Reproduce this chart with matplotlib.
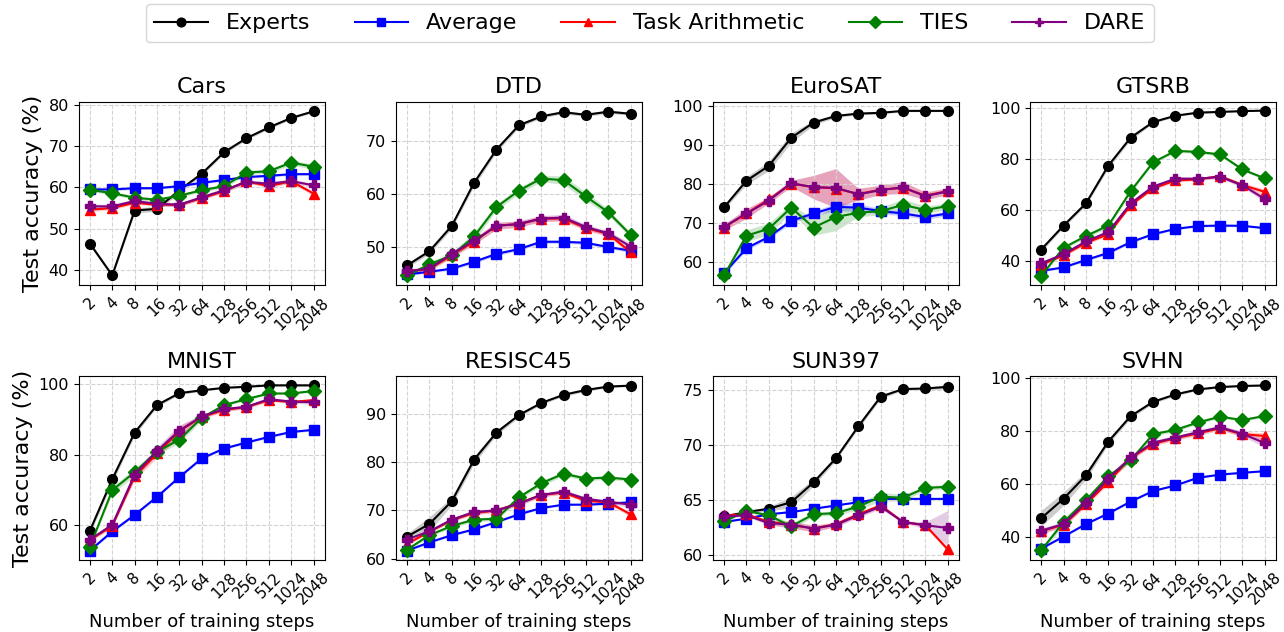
import numpy as np
import matplotlib
matplotlib.use('Agg')
import matplotlib.pyplot as plt

# Training steps (x axis) and datasets (one panel each)
steps = [2, 4, 8, 16, 32, 64, 128, 256, 512, 1024, 2048]
datasets = ['Cars', 'DTD', 'EuroSAT', 'GTSRB', 'MNIST', 'RESISC45', 'SUN397', 'SVHN']

# Mean test accuracy, one row per dataset (same order as `datasets`)
experts_mean = [
    [46.4, 38.7, 54.4, 54.8, 59.3, 63.3, 68.5, 71.9, 74.5, 76.8, 78.4],
    [46.4, 49.1, 53.9, 62.1, 68.4, 73.0, 74.7, 75.5, 75.0, 75.6, 75.2],
    [74.1, 80.9, 84.7, 91.9, 95.8, 97.5, 98.1, 98.3, 98.8, 98.8, 98.8],
    [44.5, 53.9, 62.6, 77.4, 88.4, 94.5, 97.0, 98.2, 98.5, 98.8, 99.0],
    [58.5, 73.1, 86.3, 94.1, 97.5, 98.3, 99.0, 99.3, 99.7, 99.7, 99.7],
    [64.6, 67.2, 71.9, 80.5, 86.1, 89.7, 92.2, 93.9, 94.9, 95.6, 95.8],
    [63.5, 63.9, 64.2, 64.8, 66.6, 68.8, 71.7, 74.4, 75.1, 75.15, 75.3],
    [46.9, 54.3, 63.1, 75.9, 85.5, 90.9, 93.7, 95.6, 96.5, 96.9, 97.1],
]
average_mean = [
    [59.5, 59.5, 59.8, 59.8, 60.3, 61.1, 61.8, 62.5, 62.8, 63.2, 63.2],
    [44.7, 45.2, 45.8, 47.1, 48.6, 49.5, 50.9, 50.9, 50.7, 49.9, 49.2],
    [57.2, 63.6, 66.5, 70.6, 72.5, 74.2, 74.0, 73.1, 72.5, 71.6, 72.5],
    [36.1, 37.5, 40.4, 43.2, 47.4, 50.5, 52.6, 53.7, 53.9, 53.8, 52.9],
    [52.9, 58.3, 63.0, 68.1, 73.7, 79.0, 81.8, 83.5, 85.1, 86.5, 87.1],
    [61.7, 63.4, 64.9, 66.1, 67.6, 69.2, 70.5, 71.2, 71.2, 71.4, 71.7],
    [63.0, 63.3, 63.7, 63.9, 64.2, 64.5, 64.8, 65.1, 65.1, 65.1, 65.1],
    [35.4, 40.0, 44.7, 48.7, 53.2, 57.2, 59.3, 62.2, 63.4, 64.1, 64.7],
]
ta_mean = [
    [54.6, 55.0, 56.3, 55.8, 55.8, 57.4, 59.1, 61.5, 60.3, 61.5, 58.5],
    [45.3, 45.7, 48.4, 50.9, 54.0, 54.2, 55.3, 55.3, 53.5, 52.4, 48.9],
    [68.9, 72.5, 76.1, 80.1, 79.3, 78.9, 77.5, 78.6, 79.1, 77.1, 78.2],
    [38.5, 42.3, 47.1, 50.5, 61.9, 68.5, 71.6, 72.0, 73.3, 69.8, 67.1],
    [55.9, 59.9, 73.9, 80.4, 86.7, 90.8, 92.7, 93.6, 95.5, 95.0, 95.5],
    [63.1, 65.6, 68.0, 69.5, 70.0, 71.5, 73.2, 73.7, 72.0, 71.7, 69.2],
    [63.6, 63.7, 63.0, 62.75, 62.4, 62.8, 63.7, 64.5, 63.0, 62.7, 60.5],
    [42.0, 44.5, 52.2, 60.7, 69.7, 75.0, 77.2, 79.0, 80.9, 78.7, 78.0],
]
ties_mean = [
    [59.4, 58.6, 57.5, 57.0, 58.0, 59.3, 60.3, 63.6, 63.9, 66.0, 65.0],
    [44.5, 46.6, 48.3, 51.9, 57.5, 60.6, 62.9, 62.6, 59.5, 56.5, 52.2],
    [56.6, 66.8, 68.6, 74.0, 68.9, 71.6, 72.7, 73.1, 74.7, 73.4, 74.4],
    [34.2, 45.2, 49.8, 53.9, 67.4, 78.7, 83.2, 82.8, 81.8, 75.9, 72.4],
    [54.0, 70.0, 75.1, 80.9, 84.3, 90.5, 94.1, 95.8, 97.4, 97.4, 98.1],
    [61.9, 64.9, 66.8, 68.1, 68.3, 72.7, 75.6, 77.6, 76.6, 76.8, 76.4],
    [63.05, 64.0, 63.6, 62.6, 63.7, 63.8, 64.4, 65.3, 65.2, 66.1, 66.2],
    [34.8, 45.4, 53.7, 62.8, 68.8, 78.7, 80.3, 83.1, 85.3, 84.0, 85.6],
]
dare_mean = [
    [55.4, 55.4, 56.7, 56.0, 55.8, 57.6, 59.3, 61.3, 60.9, 61.5, 60.5],
    [45.3, 45.8, 48.6, 51.1, 53.9, 54.3, 55.3, 55.5, 53.7, 52.5, 50.0],
    [69.1, 72.5, 75.8, 80.3, 79.2, 79.1, 77.4, 78.5, 79.2, 76.9, 78.2],
    [39.1, 42.7, 47.7, 51.4, 62.6, 69.2, 72.3, 72.3, 73.0, 69.7, 64.3],
    [56.0, 60.2, 74.4, 81.1, 86.9, 90.9, 93.0, 93.6, 95.8, 95.1, 94.9],
    [64.0, 65.7, 68.1, 69.7, 70.0, 71.4, 73.2, 73.9, 72.4, 71.8, 71.2],
    [63.5, 63.6, 62.9, 62.75, 62.4, 62.75, 63.6, 64.4, 63.0, 62.7, 62.45],
    [42.2, 44.7, 52.8, 61.9, 69.9, 75.5, 77.4, 79.4, 81.3, 78.8, 75.3],
]

# Standard deviation (shaded band), same layout
experts_std = [
    [0.5, 0.4, 0.6, 0.6, 0.6, 0.5, 0.4, 0.4, 0.4, 0.3, 0.3],
    [0.4, 0.5, 0.5, 0.6, 0.5, 0.4, 0.3, 0.3, 0.3, 0.3, 0.3],
    [0.5, 1.0, 1.2, 1.2, 0.6, 0.4, 0.3, 0.3, 0.2, 0.2, 0.2],
    [0.8, 0.8, 0.8, 1.0, 0.8, 0.5, 0.4, 0.3, 0.3, 0.2, 0.2],
    [0.8, 1.0, 0.8, 0.5, 0.4, 0.3, 0.2, 0.2, 0.2, 0.2, 0.2],
    [0.6, 1.5, 0.8, 0.8, 0.5, 0.4, 0.3, 0.3, 0.3, 0.2, 0.2],
    [0.1, 0.1, 0.2, 0.5, 0.3, 0.2, 0.2, 0.2, 0.1, 0.1, 0.2],
    [3.0, 2.5, 1.5, 1.0, 0.8, 0.6, 0.5, 0.4, 0.3, 0.3, 0.3],
]
average_std = [
    [0.3, 0.3, 0.3, 0.3, 0.3, 0.3, 0.3, 0.3, 0.3, 0.3, 0.3],
    [0.2, 0.2, 0.3, 0.3, 0.3, 0.3, 0.3, 0.3, 0.3, 0.3, 0.3],
    [0.4, 0.5, 0.5, 0.6, 0.6, 1.0, 1.0, 0.7, 0.6, 0.6, 0.6],
    [0.4, 0.4, 0.5, 0.5, 0.5, 0.4, 0.4, 0.4, 0.4, 0.4, 0.4],
    [0.3, 0.3, 0.3, 0.3, 0.3, 0.3, 0.3, 0.3, 0.3, 0.3, 0.3],
    [0.2, 0.2, 0.2, 0.2, 0.2, 0.2, 0.2, 0.2, 0.2, 0.2, 0.2],
    [0.05, 0.05, 0.05, 0.05, 0.05, 0.05, 0.05, 0.05, 0.05, 0.05, 0.05],
    [0.3, 0.3, 0.3, 0.3, 0.3, 0.3, 0.3, 0.3, 0.3, 0.3, 0.3],
]
ta_std = [
    [0.5, 0.4, 0.4, 0.4, 0.4, 0.4, 0.4, 0.4, 0.4, 0.5, 0.5],
    [0.4, 0.4, 0.5, 0.6, 0.6, 0.6, 0.5, 0.5, 0.5, 0.5, 0.5],
    [0.8, 1.2, 0.8, 0.8, 3.0, 5.0, 1.5, 1.2, 1.5, 1.0, 0.8],
    [0.6, 0.6, 0.6, 0.6, 0.6, 0.6, 0.6, 0.6, 0.6, 0.8, 1.2],
    [0.4, 0.6, 1.0, 1.2, 1.5, 0.6, 0.5, 0.5, 0.4, 0.4, 0.6],
    [0.3, 0.3, 0.3, 0.4, 0.4, 0.4, 0.4, 0.4, 0.4, 0.4, 0.5],
    [0.1, 0.1, 0.2, 0.3, 0.3, 0.2, 0.2, 0.2, 0.1, 0.1, 0.2],
    [1.0, 1.0, 0.8, 0.8, 0.8, 0.8, 0.8, 0.8, 0.8, 1.0, 1.2],
]
ties_std = [
    [0.4, 0.4, 0.4, 0.4, 0.4, 0.4, 0.5, 0.5, 0.5, 0.6, 0.6],
    [0.3, 0.5, 0.6, 0.8, 0.6, 0.6, 0.6, 0.8, 0.8, 0.6, 0.5],
    [0.4, 1.5, 1.5, 1.0, 2.0, 3.5, 1.0, 1.0, 1.5, 1.0, 0.8],
    [0.5, 0.6, 0.8, 0.8, 0.8, 0.6, 0.6, 0.6, 0.6, 0.6, 0.6],
    [0.4, 1.0, 1.0, 0.8, 1.0, 0.6, 0.4, 0.3, 0.3, 0.3, 0.3],
    [0.3, 0.3, 0.4, 0.4, 0.4, 0.4, 0.5, 0.5, 0.4, 0.4, 0.4],
    [0.1, 0.1, 0.2, 0.3, 0.2, 0.2, 0.3, 0.4, 0.3, 0.2, 0.2],
    [0.5, 1.5, 1.0, 1.0, 1.0, 0.8, 0.6, 0.6, 0.5, 0.5, 0.5],
]
dare_std = [
    [0.6, 0.5, 0.5, 0.5, 0.5, 0.5, 0.5, 0.5, 0.5, 0.5, 0.5],
    [0.4, 0.4, 0.5, 0.6, 0.7, 0.6, 0.6, 0.6, 0.5, 0.5, 0.6],
    [0.8, 1.2, 0.8, 0.8, 3.0, 5.0, 1.5, 1.2, 1.5, 1.0, 0.8],
    [0.6, 0.6, 0.6, 0.6, 0.6, 0.6, 0.6, 0.6, 0.6, 0.8, 1.2],
    [0.4, 0.6, 1.0, 1.2, 1.5, 0.6, 0.5, 0.5, 0.4, 0.4, 0.6],
    [0.3, 0.3, 0.3, 0.4, 0.4, 0.4, 0.4, 0.4, 0.4, 0.4, 0.5],
    [0.1, 0.1, 0.2, 0.3, 0.3, 0.2, 0.2, 0.2, 0.1, 0.3, 1.6],
    [1.0, 1.0, 0.8, 0.8, 0.8, 0.8, 0.8, 0.8, 0.8, 1.0, 1.5],
]

methods = ['Experts', 'Average', 'Task Arithmetic', 'TIES', 'DARE']
colors = ['black', 'blue', 'red', 'green', 'purple']
markers = ['o', 's', '^', 'D', 'P']
means = [experts_mean, average_mean, ta_mean, ties_mean, dare_mean]
stds = [experts_std, average_std, ta_std, ties_std, dare_std]

fig, axes = plt.subplots(2, 4, figsize=(12.84, 6.32), dpi=100)
fig.subplots_adjust(left=0.0613, right=0.9938, bottom=0.114, top=0.839,
                    wspace=0.289, hspace=0.495)

for d, ax in enumerate(axes.flat):
    for m in range(len(methods)):
        mu = np.array(means[m][d])
        sd = np.array(stds[m][d])
        ax.plot(steps, mu, color=colors[m], marker=markers[m], markersize=7,
                linewidth=1.5, label=methods[m])
        ax.fill_between(steps, mu - sd, mu + sd, color=colors[m], alpha=0.2,
                        linewidth=0)
    ax.set_xscale('log', base=2)
    ax.set_xticks(steps)
    ax.set_xticklabels([str(s) for s in steps], rotation=45, fontsize=11)
    ax.minorticks_off()
    ax.tick_params(axis='y', labelsize=11.5)
    ax.grid(True, linestyle='--', color='lightgray', linewidth=0.8)
    ax.set_title(datasets[d], fontsize=16)
    if d % 4 == 0:
        ax.set_ylabel('Test accuracy (%)', fontsize=16)
    if d >= 4:
        ax.set_xlabel('Number of training steps', fontsize=13)

handles, labels = axes[0, 0].get_legend_handles_labels()
fig.legend(handles, labels, loc='upper center', bbox_to_anchor=(0.506, 1.0),
           borderaxespad=0.2, ncol=5, fontsize=16, markerscale=0.9,
           handlelength=2.4)

plt.savefig('out.png', dpi=100)
